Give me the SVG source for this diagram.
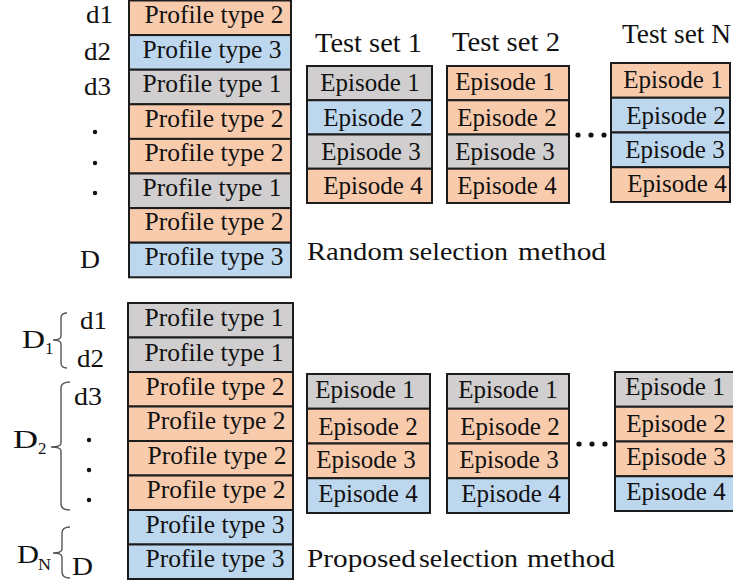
<svg xmlns="http://www.w3.org/2000/svg" width="733" height="584" viewBox="0 0 733 584" font-family="'Liberation Serif', Tinos, 'Times New Roman', Times, serif">
  <style>
    text { font-family: 'Liberation Serif', Tinos, 'Times New Roman', Times, serif; fill: #111; }
    .lbl { font-size: 26px; }
    .cap { font-size: 26px; }
    .cell { font-size: 25px; text-anchor: middle; }
    .hdr { font-size: 27px; }
    .sub { font-size: 17px; }
    .o { fill: #F8CBAD; stroke: #1c1c1c; stroke-width: 2; }
    .b { fill: #BDD7EE; stroke: #1c1c1c; stroke-width: 2; }
    .g { fill: #D0CECE; stroke: #1c1c1c; stroke-width: 2; }
    .brace { fill: none; stroke: #555; stroke-width: 1.4; }
    .dot { fill: #111; }
  </style>

  <!-- ===== Random selection method ===== -->
  <g id="random-profiles">
    <rect class="o" x="129" y="0.5" width="162" height="34.6"/>
    <rect class="b" x="129" y="35.1" width="162" height="34.6"/>
    <rect class="g" x="129" y="69.7" width="162" height="34.6"/>
    <rect class="o" x="129" y="104.3" width="162" height="34.6"/>
    <rect class="o" x="129" y="138.9" width="162" height="34.6"/>
    <rect class="g" x="129" y="173.5" width="162" height="34.6"/>
    <rect class="o" x="129" y="208.1" width="162" height="34.6"/>
    <rect class="b" x="129" y="242.7" width="162" height="34.6"/>
    <text class="cell" x="214" y="23" textLength="139" lengthAdjust="spacingAndGlyphs">Profile type 2</text>
    <text class="cell" x="212" y="58" textLength="139" lengthAdjust="spacingAndGlyphs">Profile type 3</text>
    <text class="cell" x="212" y="92" textLength="139" lengthAdjust="spacingAndGlyphs">Profile type 1</text>
    <text class="cell" x="214" y="127" textLength="139" lengthAdjust="spacingAndGlyphs">Profile type 2</text>
    <text class="cell" x="214" y="161" textLength="139" lengthAdjust="spacingAndGlyphs">Profile type 2</text>
    <text class="cell" x="212" y="196" textLength="139" lengthAdjust="spacingAndGlyphs">Profile type 1</text>
    <text class="cell" x="214" y="230" textLength="139" lengthAdjust="spacingAndGlyphs">Profile type 2</text>
    <text class="cell" x="214" y="265" textLength="139" lengthAdjust="spacingAndGlyphs">Profile type 3</text>
  </g>

  <g id="random-labels">
    <text class="lbl" x="86" y="23" textLength="27" lengthAdjust="spacingAndGlyphs">d1</text>
    <text class="lbl" x="84" y="60" textLength="27" lengthAdjust="spacingAndGlyphs">d2</text>
    <text class="lbl" x="84" y="95" textLength="27" lengthAdjust="spacingAndGlyphs">d3</text>
    <circle class="dot" cx="95" cy="132" r="2.2"/>
    <circle class="dot" cx="95" cy="163" r="2.2"/>
    <circle class="dot" cx="95" cy="193" r="2.2"/>
    <text class="lbl" x="80" y="268" textLength="20" lengthAdjust="spacingAndGlyphs">D</text>
  </g>

  <g id="random-test-set-1">
    <text class="hdr" x="315" y="52" textLength="107" lengthAdjust="spacingAndGlyphs">Test set 1</text>
    <rect class="g" x="307" y="66" width="125" height="34.25"/>
    <rect class="b" x="307" y="100.25" width="125" height="34.25"/>
    <rect class="g" x="307" y="134.5" width="125" height="34.25"/>
    <rect class="o" x="307" y="168.75" width="125" height="34.25"/>
    <text class="cell" x="370" y="91">Episode 1</text>
    <text class="cell" x="373" y="126">Episode 2</text>
    <text class="cell" x="371" y="160">Episode 3</text>
    <text class="cell" x="373" y="194">Episode 4</text>
  </g>

  <g id="random-test-set-2">
    <text class="hdr" x="452" y="51" textLength="108" lengthAdjust="spacingAndGlyphs">Test set 2</text>
    <rect class="o" x="447" y="66" width="122" height="34.25"/>
    <rect class="o" x="447" y="100.25" width="122" height="34.25"/>
    <rect class="g" x="447" y="134.5" width="122" height="34.25"/>
    <rect class="o" x="447" y="168.75" width="122" height="34.25"/>
    <text class="cell" x="505" y="90">Episode 1</text>
    <text class="cell" x="507" y="126">Episode 2</text>
    <text class="cell" x="505" y="160">Episode 3</text>
    <text class="cell" x="507" y="194">Episode 4</text>
  </g>

  <g id="random-ellipsis">
    <circle class="dot" cx="578" cy="135" r="2.6"/>
    <circle class="dot" cx="591" cy="135" r="2.6"/>
    <circle class="dot" cx="604" cy="135" r="2.6"/>
  </g>

  <g id="random-test-set-n">
    <text class="hdr" x="622" y="43" textLength="109" lengthAdjust="spacingAndGlyphs">Test set N</text>
    <rect class="o" x="611" y="63" width="119" height="34.75"/>
    <rect class="b" x="611" y="97.75" width="119" height="34.75"/>
    <rect class="b" x="611" y="132.5" width="119" height="34.75"/>
    <rect class="o" x="611" y="167.25" width="119" height="34.75"/>
    <text class="cell" x="673" y="88">Episode 1</text>
    <text class="cell" x="676" y="124">Episode 2</text>
    <text class="cell" x="675" y="158">Episode 3</text>
    <text class="cell" x="677" y="192">Episode 4</text>
  </g>

  <g id="random-caption">
    <text class="cap" y="260"><tspan x="307" textLength="97" lengthAdjust="spacingAndGlyphs">Random</tspan><tspan x="409" textLength="99" lengthAdjust="spacingAndGlyphs">selection</tspan><tspan x="518" textLength="88" lengthAdjust="spacingAndGlyphs">method</tspan></text>
  </g>

  <!-- ===== Proposed selection method ===== -->
  <g id="proposed-profiles">
    <rect class="g" x="128" y="303" width="165" height="34.5"/>
    <rect class="g" x="128" y="337.5" width="165" height="34.5"/>
    <rect class="o" x="128" y="372" width="165" height="34.5"/>
    <rect class="o" x="128" y="406.5" width="165" height="34.5"/>
    <rect class="o" x="128" y="441" width="165" height="34.5"/>
    <rect class="o" x="128" y="475.5" width="165" height="34.5"/>
    <rect class="b" x="128" y="510" width="165" height="34.5"/>
    <rect class="b" x="128" y="544.5" width="165" height="34.5"/>
    <text class="cell" x="214" y="326" textLength="139" lengthAdjust="spacingAndGlyphs">Profile type 1</text>
    <text class="cell" x="214" y="361" textLength="139" lengthAdjust="spacingAndGlyphs">Profile type 1</text>
    <text class="cell" x="215" y="395" textLength="139" lengthAdjust="spacingAndGlyphs">Profile type 2</text>
    <text class="cell" x="216" y="429" textLength="139" lengthAdjust="spacingAndGlyphs">Profile type 2</text>
    <text class="cell" x="217" y="464" textLength="139" lengthAdjust="spacingAndGlyphs">Profile type 2</text>
    <text class="cell" x="216" y="498" textLength="139" lengthAdjust="spacingAndGlyphs">Profile type 2</text>
    <text class="cell" x="215" y="533" textLength="139" lengthAdjust="spacingAndGlyphs">Profile type 3</text>
    <text class="cell" x="215" y="567" textLength="139" lengthAdjust="spacingAndGlyphs">Profile type 3</text>
  </g>

  <g id="proposed-labels">
    <text class="lbl" x="80" y="329" textLength="27" lengthAdjust="spacingAndGlyphs">d1</text>
    <text class="lbl" x="77" y="367" textLength="27" lengthAdjust="spacingAndGlyphs">d2</text>
    <text class="lbl" x="74" y="405" textLength="28" lengthAdjust="spacingAndGlyphs">d3</text>
    <circle class="dot" cx="89" cy="440" r="2.2"/>
    <circle class="dot" cx="89" cy="470" r="2.2"/>
    <circle class="dot" cx="89" cy="500" r="2.2"/>
    <text class="lbl" x="72" y="575" textLength="21" lengthAdjust="spacingAndGlyphs">D</text>
  </g>

  <g id="group-d1">
    <text class="lbl" x="22" y="348" textLength="23" lengthAdjust="spacingAndGlyphs">D</text>
    <text class="sub" x="45" y="354">1</text>
  </g>
  <g id="group-d2">
    <text class="lbl" x="13" y="448" textLength="25" lengthAdjust="spacingAndGlyphs">D</text>
    <text class="sub" x="38" y="454">2</text>
  </g>
  <g id="group-dn">
    <text class="lbl" x="17" y="563" textLength="22" lengthAdjust="spacingAndGlyphs">D</text>
    <text class="sub" x="38" y="570" textLength="13" lengthAdjust="spacingAndGlyphs">N</text>
  </g>

  <g id="connectors">
    <!-- curly braces grouping the profiles -->
    <path class="brace" d="M67,313 Q61,313 61,318 L61,336 Q61,340 53,340 Q61,340 61,344 L61,363 Q61,368 67,368"/>
    <path class="brace" d="M70,382 Q61,382 61,388 L61,443 Q61,447 51,447 Q61,447 61,451 L61,504 Q61,510 70,510"/>
    <path class="brace" d="M70,527 Q62,527 62,533 L62,549 Q62,553 53,553 Q62,553 62,557 L62,572 Q62,578 70,578"/>
  </g>

  <g id="proposed-test-set-1">
    <rect class="g" x="307" y="374" width="123" height="34.75"/>
    <rect class="o" x="307" y="408.75" width="123" height="34.75"/>
    <rect class="o" x="307" y="443.5" width="123" height="34.75"/>
    <rect class="b" x="307" y="478.25" width="123" height="34.75"/>
    <text class="cell" x="365" y="398">Episode 1</text>
    <text class="cell" x="368" y="435">Episode 2</text>
    <text class="cell" x="366" y="468">Episode 3</text>
    <text class="cell" x="368" y="502">Episode 4</text>
  </g>

  <g id="proposed-test-set-2">
    <rect class="g" x="447" y="374" width="122" height="34.75"/>
    <rect class="o" x="447" y="408.75" width="122" height="34.75"/>
    <rect class="o" x="447" y="443.5" width="122" height="34.75"/>
    <rect class="b" x="447" y="478.25" width="122" height="34.75"/>
    <text class="cell" x="508" y="398">Episode 1</text>
    <text class="cell" x="510" y="435">Episode 2</text>
    <text class="cell" x="509" y="468">Episode 3</text>
    <text class="cell" x="511" y="502">Episode 4</text>
  </g>

  <g id="proposed-ellipsis">
    <circle class="dot" cx="579" cy="444" r="2.6"/>
    <circle class="dot" cx="592" cy="444" r="2.6"/>
    <circle class="dot" cx="605" cy="444" r="2.6"/>
  </g>

  <g id="proposed-test-set-n">
    <rect class="g" x="615" y="372" width="122" height="34.75"/>
    <rect class="o" x="615" y="406.75" width="122" height="34.75"/>
    <rect class="o" x="615" y="441.5" width="122" height="34.75"/>
    <rect class="b" x="615" y="476.25" width="122" height="34.75"/>
    <text class="cell" x="675" y="395">Episode 1</text>
    <text class="cell" x="676" y="432">Episode 2</text>
    <text class="cell" x="676" y="465">Episode 3</text>
    <text class="cell" x="676" y="500">Episode 4</text>
  </g>

  <g id="proposed-caption">
    <text class="cap" y="567"><tspan x="307" textLength="109" lengthAdjust="spacingAndGlyphs">Proposed</tspan><tspan x="419" textLength="99" lengthAdjust="spacingAndGlyphs">selection</tspan><tspan x="527" textLength="88" lengthAdjust="spacingAndGlyphs">method</tspan></text>
  </g>
</svg>
